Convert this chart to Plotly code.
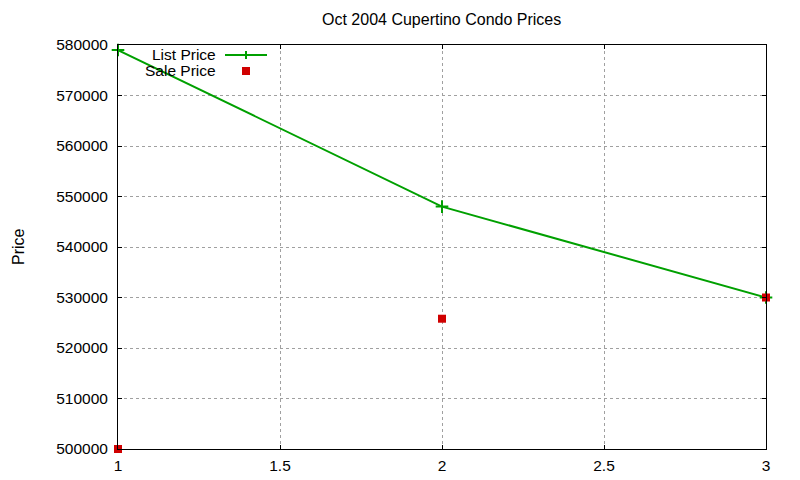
import plotly.graph_objects as go

x_vals = [1, 2, 3]
list_price = [579000, 548000, 530000]
sale_price = [500000, 525800, 530000]

title_text = "Oct 2004 Cupertino Condo Prices"
y_title = "Price"
x_ticks = [1, 1.5, 2, 2.5, 3]
x_tick_labels = ["1", "1.5", "2", "2.5", "3"]
y_ticks = [500000, 510000, 520000, 530000, 540000, 550000, 560000, 570000, 580000]
y_tick_labels = [str(v) for v in y_ticks]

GREEN = "#00a000"
RED = "#d00000"
FONT = "Liberation Sans, Arial, sans-serif"

fig = go.Figure()
fig.add_trace(go.Scatter(x=x_vals, y=list_price, mode="lines+markers",
                         line=dict(color=GREEN, width=2),
                         marker=dict(symbol="cross-thin", size=9, line=dict(color=GREEN, width=2)),
                         showlegend=False, cliponaxis=False))
fig.add_trace(go.Scatter(x=x_vals, y=sale_price, mode="markers",
                         marker=dict(symbol="square", size=8, color=RED),
                         showlegend=False, cliponaxis=False))

# target plot area in the screenshot (page has 8px body offset)
OFF = 8
SL, SR, ST, SB = 118, 766, 45, 449
W, H = 800, 480
L, T = SL - OFF, ST - OFF
R = W - (SR - OFF)
B = H - (SB - OFF)
pw, ph = SR - SL, SB - ST

def px(xs):
    return (xs - SL) / pw

def py(ys):
    return (SB - ys) / ph

axis_common = dict(showline=True, linecolor="black", linewidth=1, mirror="allticks",
                   ticks="inside", ticklen=4, tickcolor="black",
                   showgrid=True, gridcolor="#a0a0a0", griddash="dot", gridwidth=1,
                   zeroline=False, tickfont=dict(family=FONT, size=15.5, color="black"))

fig.update_layout(
    width=W, height=H,
    margin=dict(l=L, r=R, t=T, b=B),
    paper_bgcolor="white", plot_bgcolor="white",
    font=dict(family=FONT, size=16, color="black"),
    xaxis=dict(range=[1, 3], tickvals=x_ticks, ticktext=x_tick_labels, ticklabelstandoff=2, **axis_common),
    yaxis=dict(range=[500000, 580000], tickvals=y_ticks, ticktext=y_tick_labels, ticklabelstandoff=6, **axis_common),
    annotations=[
        dict(text=title_text, xref="paper", yref="paper", x=px(441), y=py(20),
             xanchor="center", yanchor="middle", showarrow=False, font=dict(size=16)),
        dict(text=y_title, xref="paper", yref="paper", x=px(18), y=py(247), textangle=-90,
             xanchor="center", yanchor="middle", showarrow=False, font=dict(size=16)),
        dict(text="List Price", xref="paper", yref="paper", x=px(218), y=py(54),
             xanchor="right", yanchor="middle", showarrow=False, font=dict(size=15.5)),
        dict(text="Sale Price", xref="paper", yref="paper", x=px(218), y=py(71),
             xanchor="right", yanchor="middle", showarrow=False, font=dict(size=15.5)),
    ],
    shapes=[
        dict(type="line", xref="paper", yref="paper", x0=px(225), x1=px(267), y0=py(55), y1=py(55),
             line=dict(color=GREEN, width=2)),
        dict(type="line", xref="paper", yref="paper", x0=px(246), x1=px(246), y0=py(51), y1=py(59),
             line=dict(color=GREEN, width=2)),
        dict(type="rect", xref="paper", yref="paper", x0=px(242), x1=px(250), y0=py(67), y1=py(75),
             fillcolor=RED, line=dict(width=0)),
    ],
)

fig.write_html("out.html")
